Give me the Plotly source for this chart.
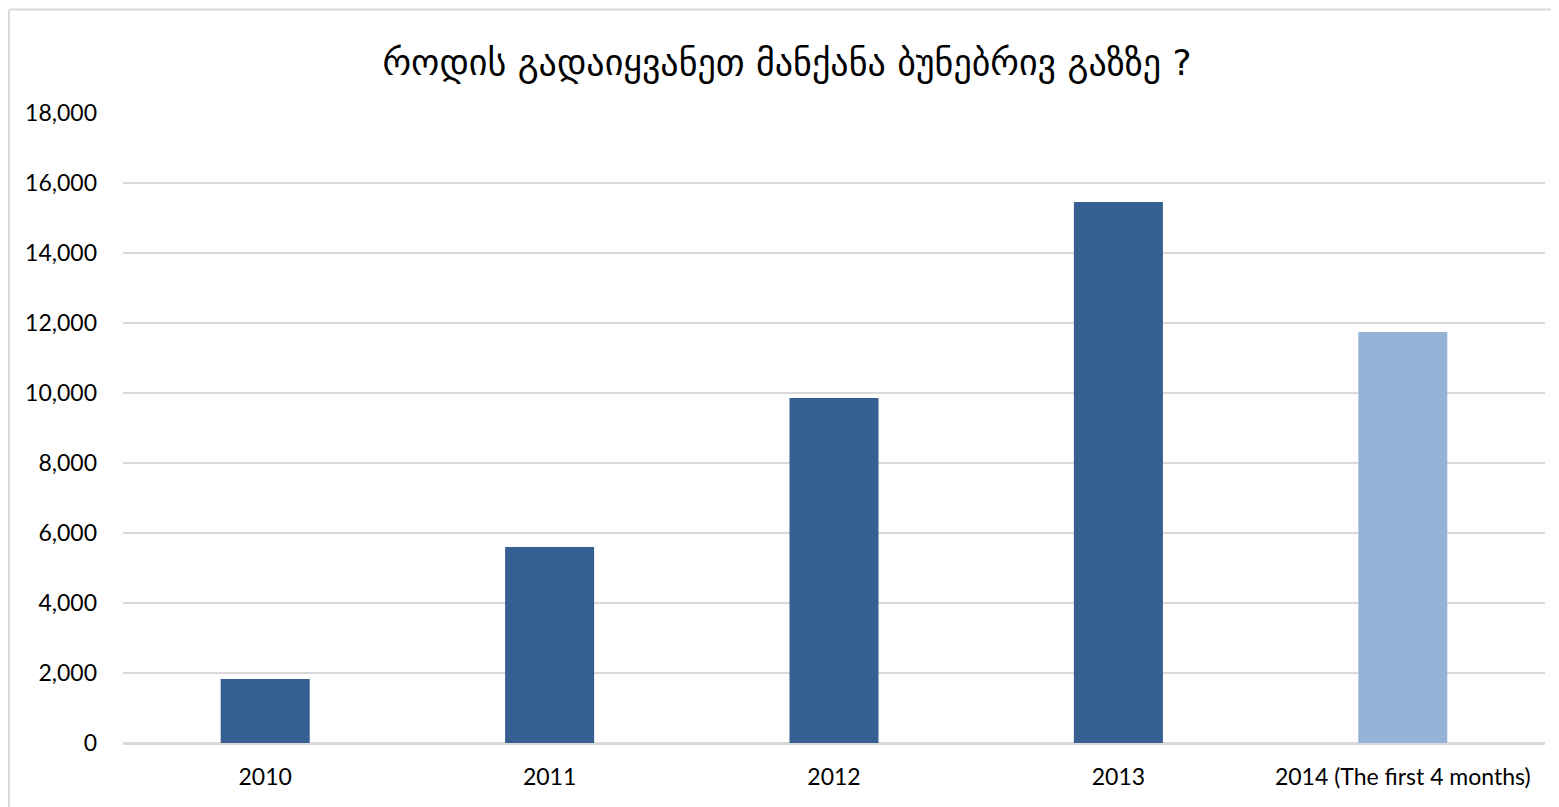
import plotly.graph_objects as go

categories = ["2010", "2011", "2012", "2013", "2014 (The first 4 months)"]
values = [1830, 5600, 9860, 15460, 11740]
bar_colors = ["#366092", "#366092", "#366092", "#366092", "#95B3D7"]
title_text = "როდის გადაიყვანეთ მანქანა ბუნებრივ გაზზე ?"
y_ticks = [0, 2000, 4000, 6000, 8000, 10000, 12000, 14000, 16000, 18000]

# page body offset (8px) compensated
W, H = 1551, 799
ML, MR, MT, MB = 115, 14, 105, 64
pw = W - ML - MR
ph = H - MT - MB

fig = go.Figure(go.Bar(
    x=categories, y=values, marker=dict(color=bar_colors, line=dict(width=0)),
    width=0.313,
))

def px_x(p):
    return (p - ML) / pw

def px_y(p):
    return (H - MB - p) / ph

border = dict(color="#D9D9D9", width=2)
fig.add_shape(type="line", xref="paper", yref="paper",
              x0=px_x(1), x1=px_x(W + 5), y0=px_y(1.5), y1=px_y(1.5), line=border)
fig.add_shape(type="line", xref="paper", yref="paper",
              x0=px_x(1), x1=px_x(1), y0=px_y(1.5), y1=px_y(H + 5), line=border)

fig.update_layout(
    width=W, height=H,
    margin=dict(l=ML, r=MR, t=MT, b=MB),
    paper_bgcolor="white", plot_bgcolor="white",
    title=dict(text=title_text, x=(787 - 8) / W, xref="container", xanchor="center",
               y=1 - 54 / H, yanchor="middle", yref="container",
               font=dict(family="DejaVu Sans, Noto Sans", size=36, color="#000000")),
    font=dict(family="Lato, Open Sans, sans-serif", size=23, color="#000000"),
    bargap=0.687,
    showlegend=False,
    xaxis=dict(showgrid=False, showline=True, linecolor="#D9D9D9", linewidth=2,
               ticks="", ticklabelstandoff=12, tickfont=dict(size=23)),
    yaxis=dict(range=[0, 18000], tickvals=y_ticks, tickformat=",d",
               showgrid=True, gridcolor="#D9D9D9", gridwidth=1.5,
               zeroline=True, zerolinecolor="#D9D9D9", zerolinewidth=2,
               showline=False, ticks="", ticklabelstandoff=25,
               tickfont=dict(size=23)),
)

fig.write_html("out.html")
